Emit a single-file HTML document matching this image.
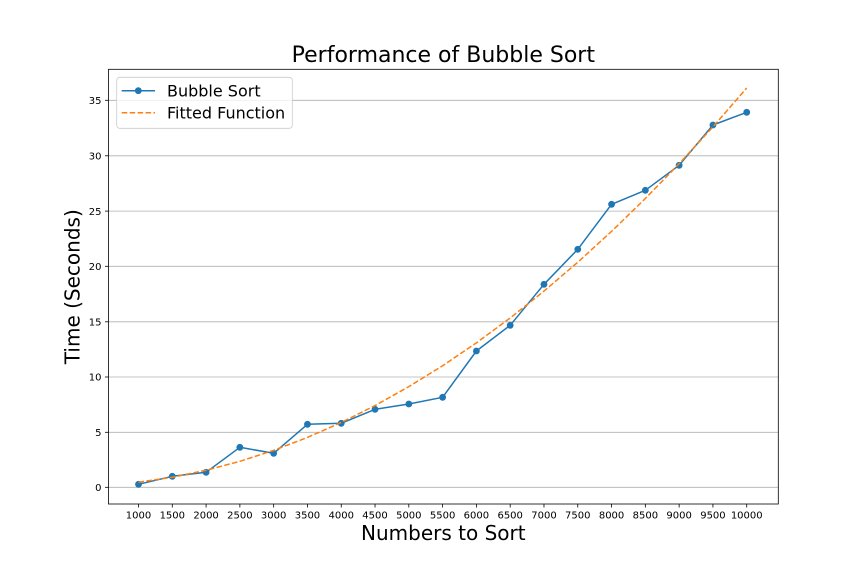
<!DOCTYPE html>
<html>
<head>
<meta charset="utf-8">
<style>
html,body{margin:0;padding:0;background:#fff;}
svg{display:block;}
text{font-family:"DejaVu Sans","Liberation Sans",sans-serif;fill:#000;}
</style>
</head>
<body>
<svg width="864" height="576" viewBox="0 0 864 576" xmlns="http://www.w3.org/2000/svg">
<rect x="0" y="0" width="864" height="576" fill="#fff"/>
<!-- gridlines -->
<g stroke="#b0b0b0" stroke-width="0.8">
<line x1="108.5" x2="778.3" y1="487.3" y2="487.3"/>
<line x1="108.5" x2="778.3" y1="432.3" y2="432.3"/>
<line x1="108.5" x2="778.3" y1="377.0" y2="377.0"/>
<line x1="108.5" x2="778.3" y1="321.8" y2="321.8"/>
<line x1="108.5" x2="778.3" y1="266.3" y2="266.3"/>
<line x1="108.5" x2="778.3" y1="211.1" y2="211.1"/>
<line x1="108.5" x2="778.3" y1="155.8" y2="155.8"/>
<line x1="108.5" x2="778.3" y1="100.3" y2="100.3"/>
</g>
<!-- y ticks -->
<g stroke="#000" stroke-width="0.8">
<line x1="105" x2="108.5" y1="487.3" y2="487.3"/>
<line x1="105" x2="108.5" y1="432.3" y2="432.3"/>
<line x1="105" x2="108.5" y1="377.0" y2="377.0"/>
<line x1="105" x2="108.5" y1="321.8" y2="321.8"/>
<line x1="105" x2="108.5" y1="266.3" y2="266.3"/>
<line x1="105" x2="108.5" y1="211.1" y2="211.1"/>
<line x1="105" x2="108.5" y1="155.8" y2="155.8"/>
<line x1="105" x2="108.5" y1="100.3" y2="100.3"/>
</g>
<g font-size="10" text-anchor="end">
<text x="101.5" y="491">0</text>
<text x="101.5" y="436">5</text>
<text x="101.5" y="380.7">10</text>
<text x="101.5" y="325.5">15</text>
<text x="101.5" y="270">20</text>
<text x="101.5" y="214.8">25</text>
<text x="101.5" y="159.5">30</text>
<text x="101.5" y="104">35</text>
</g>
<!-- x ticks -->
<g stroke="#000" stroke-width="0.8">
<line x1="138.5" x2="138.5" y1="504" y2="507.5"/>
<line x1="172.29" x2="172.29" y1="504" y2="507.5"/>
<line x1="206.08" x2="206.08" y1="504" y2="507.5"/>
<line x1="239.87" x2="239.87" y1="504" y2="507.5"/>
<line x1="273.66" x2="273.66" y1="504" y2="507.5"/>
<line x1="307.45" x2="307.45" y1="504" y2="507.5"/>
<line x1="341.24" x2="341.24" y1="504" y2="507.5"/>
<line x1="375.03" x2="375.03" y1="504" y2="507.5"/>
<line x1="408.82" x2="408.82" y1="504" y2="507.5"/>
<line x1="442.61" x2="442.61" y1="504" y2="507.5"/>
<line x1="476.4" x2="476.4" y1="504" y2="507.5"/>
<line x1="510.19" x2="510.19" y1="504" y2="507.5"/>
<line x1="543.98" x2="543.98" y1="504" y2="507.5"/>
<line x1="577.77" x2="577.77" y1="504" y2="507.5"/>
<line x1="611.56" x2="611.56" y1="504" y2="507.5"/>
<line x1="645.35" x2="645.35" y1="504" y2="507.5"/>
<line x1="679.14" x2="679.14" y1="504" y2="507.5"/>
<line x1="712.93" x2="712.93" y1="504" y2="507.5"/>
<line x1="746.72" x2="746.72" y1="504" y2="507.5"/>
</g>
<g font-size="10" text-anchor="middle">
<text x="138.5" y="518.5">1000</text>
<text x="172.29" y="518.5">1500</text>
<text x="206.08" y="518.5">2000</text>
<text x="239.87" y="518.5">2500</text>
<text x="273.66" y="518.5">3000</text>
<text x="307.45" y="518.5">3500</text>
<text x="341.24" y="518.5">4000</text>
<text x="375.03" y="518.5">4500</text>
<text x="408.82" y="518.5">5000</text>
<text x="442.61" y="518.5">5500</text>
<text x="476.4" y="518.5">6000</text>
<text x="510.19" y="518.5">6500</text>
<text x="543.98" y="518.5">7000</text>
<text x="577.77" y="518.5">7500</text>
<text x="611.56" y="518.5">8000</text>
<text x="645.35" y="518.5">8500</text>
<text x="679.14" y="518.5">9000</text>
<text x="712.93" y="518.5">9500</text>
<text x="746.72" y="518.5">10000</text>
</g>
<!-- data: bubble sort -->
<polyline fill="none" stroke="#1f77b4" stroke-width="1.5" stroke-linejoin="round" points="138.5,484.3 172.29,476.3 206.08,472.3 239.87,447.3 273.66,453.3 307.45,424.3 341.24,423.3 375.03,409.3 408.82,404 442.61,397.3 476.4,351 510.19,325.3 543.98,284.3 577.77,249.3 611.56,204.3 645.35,190.3 679.14,165.3 712.93,125 746.72,112.3"/>
<g fill="#1f77b4">
<circle cx="138.5" cy="484.3" r="3.4"/>
<circle cx="172.29" cy="476.3" r="3.4"/>
<circle cx="206.08" cy="472.3" r="3.4"/>
<circle cx="239.87" cy="447.3" r="3.4"/>
<circle cx="273.66" cy="453.3" r="3.4"/>
<circle cx="307.45" cy="424.3" r="3.4"/>
<circle cx="341.24" cy="423.3" r="3.4"/>
<circle cx="375.03" cy="409.3" r="3.4"/>
<circle cx="408.82" cy="404" r="3.4"/>
<circle cx="442.61" cy="397.3" r="3.4"/>
<circle cx="476.4" cy="351" r="3.4"/>
<circle cx="510.19" cy="325.3" r="3.4"/>
<circle cx="543.98" cy="284.3" r="3.4"/>
<circle cx="577.77" cy="249.3" r="3.4"/>
<circle cx="611.56" cy="204.3" r="3.4"/>
<circle cx="645.35" cy="190.3" r="3.4"/>
<circle cx="679.14" cy="165.3" r="3.4"/>
<circle cx="712.93" cy="125" r="3.4"/>
<circle cx="746.72" cy="112.3" r="3.4"/>
</g>
<!-- fitted function -->
<polyline fill="none" stroke="#ff7f0e" stroke-width="1.5" stroke-dasharray="5.55 2.4" points="138.5,482.21 172.29,477.24 206.08,470.27 239.87,461.31 273.66,450.36 307.45,437.42 341.24,422.49 375.03,405.57 408.82,386.65 442.61,365.75 476.4,342.86 510.19,317.97 543.98,291.1 577.77,262.23 611.56,231.37 645.35,198.52 679.14,163.68 712.93,126.86 746.72,88.03"/>
<!-- spines -->
<rect x="108.5" y="69.3" width="669.8" height="434.7" fill="none" stroke="#000" stroke-width="0.8"/>
<!-- legend -->
<rect x="116.7" y="77.3" width="175.6" height="51" rx="3" ry="3" fill="#fff" fill-opacity="0.8" stroke="#cccccc" stroke-width="0.8"/>
<line x1="121.7" x2="155" y1="90.7" y2="90.7" stroke="#1f77b4" stroke-width="1.5"/>
<circle cx="138.3" cy="90.7" r="3.4" fill="#1f77b4"/>
<line x1="121.7" x2="155" y1="112.7" y2="112.7" stroke="#ff7f0e" stroke-width="1.5" stroke-dasharray="5.55 2.4"/>
<text x="167" y="96.5" font-size="16">Bubble Sort</text>
<text x="167" y="118.5" font-size="16">Fitted Function</text>
<!-- titles -->
<text x="443.3" y="62" font-size="22" text-anchor="middle">Performance of Bubble Sort</text>
<text x="443.3" y="540" font-size="20" text-anchor="middle">Numbers to Sort</text>
<text transform="translate(79.6,286.7) rotate(-90)" x="0" y="0" font-size="20" text-anchor="middle">Time (Seconds)</text>
</svg>
</body>
</html>
